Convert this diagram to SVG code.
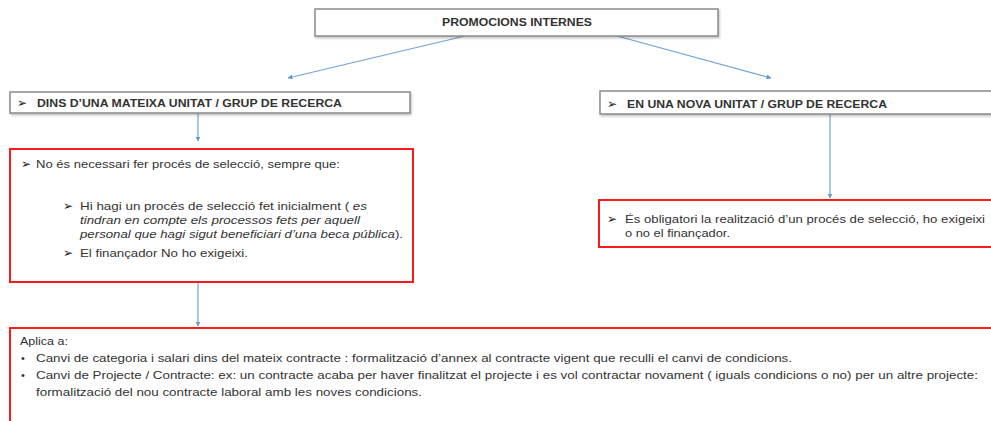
<svg xmlns="http://www.w3.org/2000/svg" width="991" height="421" viewBox="0 0 991 421">
<style>
.gbox{fill:#fff;stroke:#8a8a8a;stroke-width:1.5}
.rbox{fill:#fff;stroke:#ff1a1a;stroke-width:2}
.hd{font-family:"Liberation Sans",Arial,sans-serif;font-size:11px;font-weight:bold;fill:#333}
.tx{font-family:"Liberation Sans",Arial,sans-serif;font-size:11px;fill:#333}
.ar{font-family:"DejaVu Sans",sans-serif;font-size:12px;fill:#222}
.it{font-style:italic}
.conn{stroke:#6fa3d8;stroke-width:1.2;fill:none;marker-end:url(#ah)}
</style>
<defs>
<marker id="ah" viewBox="0 0 10 10" refX="9" refY="5" markerWidth="5" markerHeight="5" orient="auto" markerUnits="userSpaceOnUse">
<path d="M0,0 L10,5 L0,10 z" fill="#5b9bd5"/>
</marker>
<filter id="sh" x="-5%" y="-20%" width="110%" height="160%">
<feDropShadow dx="1" dy="1.5" stdDeviation="1" flood-color="#000" flood-opacity="0.25"/>
</filter>
</defs>
<rect width="991" height="421" fill="#fff"/>
<g id="connectors">
<line class="conn" x1="465" y1="36" x2="288" y2="78"/>
<line class="conn" x1="617" y1="36" x2="771" y2="78"/>
<line class="conn" x1="198" y1="113" x2="198" y2="141"/>
<line class="conn" x1="830" y1="114" x2="830" y2="198"/>
<line class="conn" x1="198" y1="283" x2="198" y2="326"/>
</g>
<g id="top">
<rect class="gbox" x="315" y="9" width="403" height="27" filter="url(#sh)"/>
<text class="hd" x="442" y="26" textLength="150" lengthAdjust="spacingAndGlyphs">PROMOCIONS INTERNES</text>
</g>
<g id="left-header">
<rect class="gbox" x="10" y="92" width="400" height="21" filter="url(#sh)"/>
<text class="ar" x="17" y="107">➢</text>
<text class="hd" x="37" y="107" textLength="305" lengthAdjust="spacingAndGlyphs">DINS D’UNA MATEIXA UNITAT / GRUP DE RECERCA</text>
</g>
<g id="right-header">
<rect class="gbox" x="600" y="91" width="400" height="23" filter="url(#sh)"/>
<text class="ar" x="607" y="108">➢</text>
<text class="hd" x="627" y="108" textLength="260" lengthAdjust="spacingAndGlyphs">EN UNA NOVA UNITAT / GRUP DE RECERCA</text>
</g>
<g id="left-detail">
<rect class="rbox" x="10" y="149" width="403" height="133"/>
<text class="ar" x="21" y="168">➢</text>
<text class="tx" x="36" y="168" textLength="304" lengthAdjust="spacingAndGlyphs">No és necessari fer procés de selecció, sempre que:</text>
<text class="ar" x="63" y="210">➢</text>
<text class="tx" x="80" y="210" textLength="287" lengthAdjust="spacingAndGlyphs">Hi hagi un procés  de selecció fet inicialment ( <tspan class="it">es</tspan></text>
<text class="tx it" x="80" y="224" textLength="280" lengthAdjust="spacingAndGlyphs">tindran en compte els processos fets per aquell</text>
<text class="tx" x="80" y="238" textLength="323" lengthAdjust="spacingAndGlyphs"><tspan class="it">personal que hagi sigut beneficiari d’una beca pública</tspan>).</text>
<text class="ar" x="63" y="257">➢</text>
<text class="tx" x="80" y="257" textLength="168" lengthAdjust="spacingAndGlyphs">El finançador No ho exigeixi.</text>
</g>
<g id="right-detail">
<rect class="rbox" x="599" y="200" width="400" height="47"/>
<text class="ar" x="607" y="223">➢</text>
<text class="tx" x="625" y="223" textLength="360" lengthAdjust="spacingAndGlyphs">És obligatori la realització d’un procés de selecció, ho exigeixi</text>
<text class="tx" x="625" y="237" textLength="105" lengthAdjust="spacingAndGlyphs">o no el finançador.</text>
</g>
<g id="applies">
<rect class="rbox" x="10" y="328" width="990" height="100"/>
<text class="tx" x="20" y="345" textLength="48" lengthAdjust="spacingAndGlyphs">Aplica a:</text>
<text class="tx" x="21" y="362">•</text>
<text class="tx" x="36" y="362" textLength="756" lengthAdjust="spacingAndGlyphs">Canvi de categoria i salari dins del mateix contracte : formalització d’annex  al contracte vigent que reculli el canvi de condicions.</text>
<text class="tx" x="21" y="379">•</text>
<text class="tx" x="36" y="379" textLength="942" lengthAdjust="spacingAndGlyphs">Canvi de Projecte / Contracte: ex: un contracte acaba per haver finalitzat el projecte i es vol contractar novament ( iguals condicions o no) per un altre projecte:</text>
<text class="tx" x="36" y="396" textLength="386" lengthAdjust="spacingAndGlyphs">formalització del nou contracte laboral amb les noves condicions.</text>
</g>
</svg>
